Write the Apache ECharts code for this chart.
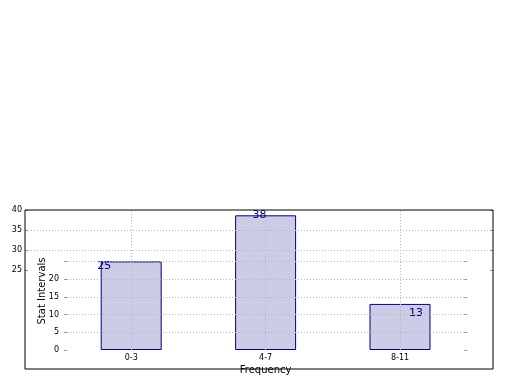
<!DOCTYPE html>
<html>
<head>
<meta charset="utf-8">
<script src="https://cdn.jsdelivr.net/npm/echarts@6/dist/echarts.min.js"></script>
<style>html,body{margin:0;padding:0;background:#fff}#c{width:520px;height:390px}</style>
</head>
<body>
<div id="c"></div>
<script>
const categories = ['0-3', '4-7', '8-11'];
const values = [25, 38, 13];
const outerTickLabels = [25, 30, 35, 40];
const innerTickLabels = [0, 5, 10, 15, 20];
const xTitle = 'Frequency';
const yTitle = 'Stat Intervals';

const FONT = 'DejaVu Sans';
const grey = '#b4b4b4';
const labelOffsets = [[-27, -6], [-6, -11], [16, -1]];

const chart = echarts.init(document.getElementById('c'), null, {renderer: 'canvas'});
const hiddenX = (gi) => ({type: 'value', gridIndex: gi, min: 0, max: 1, show: false});
const dotted = {type: [1, 2], color: grey, width: 1};

chart.setOption({
  animation: false,
  grid: [
    {left: 25, right: 27, top: 210, height: 159, show: true, borderColor: '#000', borderWidth: 1, backgroundColor: 'transparent', z: 10},
    {left: 25, right: 27, top: 210, height: 60},
    {left: 64, right: 52.8, top: 210, bottom: 40},
    {left: 64, right: 52.8, top: 350 - 25 * (140 / 39.5), bottom: 40}
  ],
  xAxis: [
    hiddenX(0),
    hiddenX(1),
    {type: 'category', gridIndex: 2, data: categories,
     axisLine: {show: false}, axisTick: {show: false}, splitLine: {show: false},
     axisLabel: {fontFamily: FONT, fontSize: 8, color: '#000', margin: 4},
     name: xTitle, nameLocation: 'middle', nameGap: 15,
     nameTextStyle: {fontFamily: FONT, fontSize: 10, color: '#000'}},
    hiddenX(3)
  ],
  yAxis: [
    {type: 'value', gridIndex: 0, min: 0, max: 1, show: false},
    {type: 'value', gridIndex: 1, position: 'left', min: 25, max: 40, interval: 5, z: 5,
     axisLine: {show: false},
     axisTick: {show: true, inside: true, length: 3, lineStyle: {color: '#999'}},
     axisLabel: {fontFamily: FONT, fontSize: 8, color: '#000', margin: 3,
                 formatter: v => outerTickLabels.includes(v) ? String(v) : ''},
     splitLine: {show: true, showMinLine: false, showMaxLine: false, lineStyle: dotted}},
    {type: 'value', gridIndex: 1, position: 'right', min: 25, max: 40, interval: 5, z: 5,
     axisLine: {show: false},
     axisTick: {show: true, inside: true, length: 3, lineStyle: {color: '#999'}},
     axisLabel: {show: false}, splitLine: {show: false}},
    {type: 'value', gridIndex: 2, position: 'left', min: 0, max: 39.5,
     axisLine: {show: false}, axisTick: {show: false}, axisLabel: {show: false}, splitLine: {show: false},
     name: yTitle, nameLocation: 'middle', nameGap: 17,
     nameTextStyle: {fontFamily: FONT, fontSize: 10, color: '#000', padding: [0, 22, 0, 0]}},
    {type: 'value', gridIndex: 3, position: 'left', min: 0, max: 25, interval: 5, z: 5,
     axisLine: {show: false},
     axisTick: {show: true, inside: true, length: 3, lineStyle: {color: '#999'}},
     axisLabel: {fontFamily: FONT, fontSize: 8, color: '#000', margin: 5,
                 formatter: v => innerTickLabels.includes(v) ? String(v) : ''},
     splitLine: {show: true, showMinLine: false, showMaxLine: true, lineStyle: dotted}},
    {type: 'value', gridIndex: 3, position: 'right', min: 0, max: 25, interval: 5, z: 5,
     axisLine: {show: false},
     axisTick: {show: true, inside: true, length: 3, lineStyle: {color: '#999'}},
     axisLabel: {show: false}, splitLine: {show: false}}
  ],
  series: [
    {type: 'bar', xAxisIndex: 2, yAxisIndex: 3, barWidth: 61, clip: false,
     itemStyle: {color: 'rgba(0,0,128,0.2)', borderColor: '#000080', borderWidth: 1},
     label: {show: true, position: 'insideTop', fontFamily: FONT, fontSize: 11, color: '#000080'},
     data: values.map((v, i) => ({value: v, label: {offset: labelOffsets[i]}})),
     markLine: {silent: true, symbol: 'none', label: {show: false},
                lineStyle: {type: [1, 2], color: grey, width: 1},
                data: categories.map(c => ({xAxis: c}))},
     z: 2}
  ]
});
</script>
</body>
</html>
